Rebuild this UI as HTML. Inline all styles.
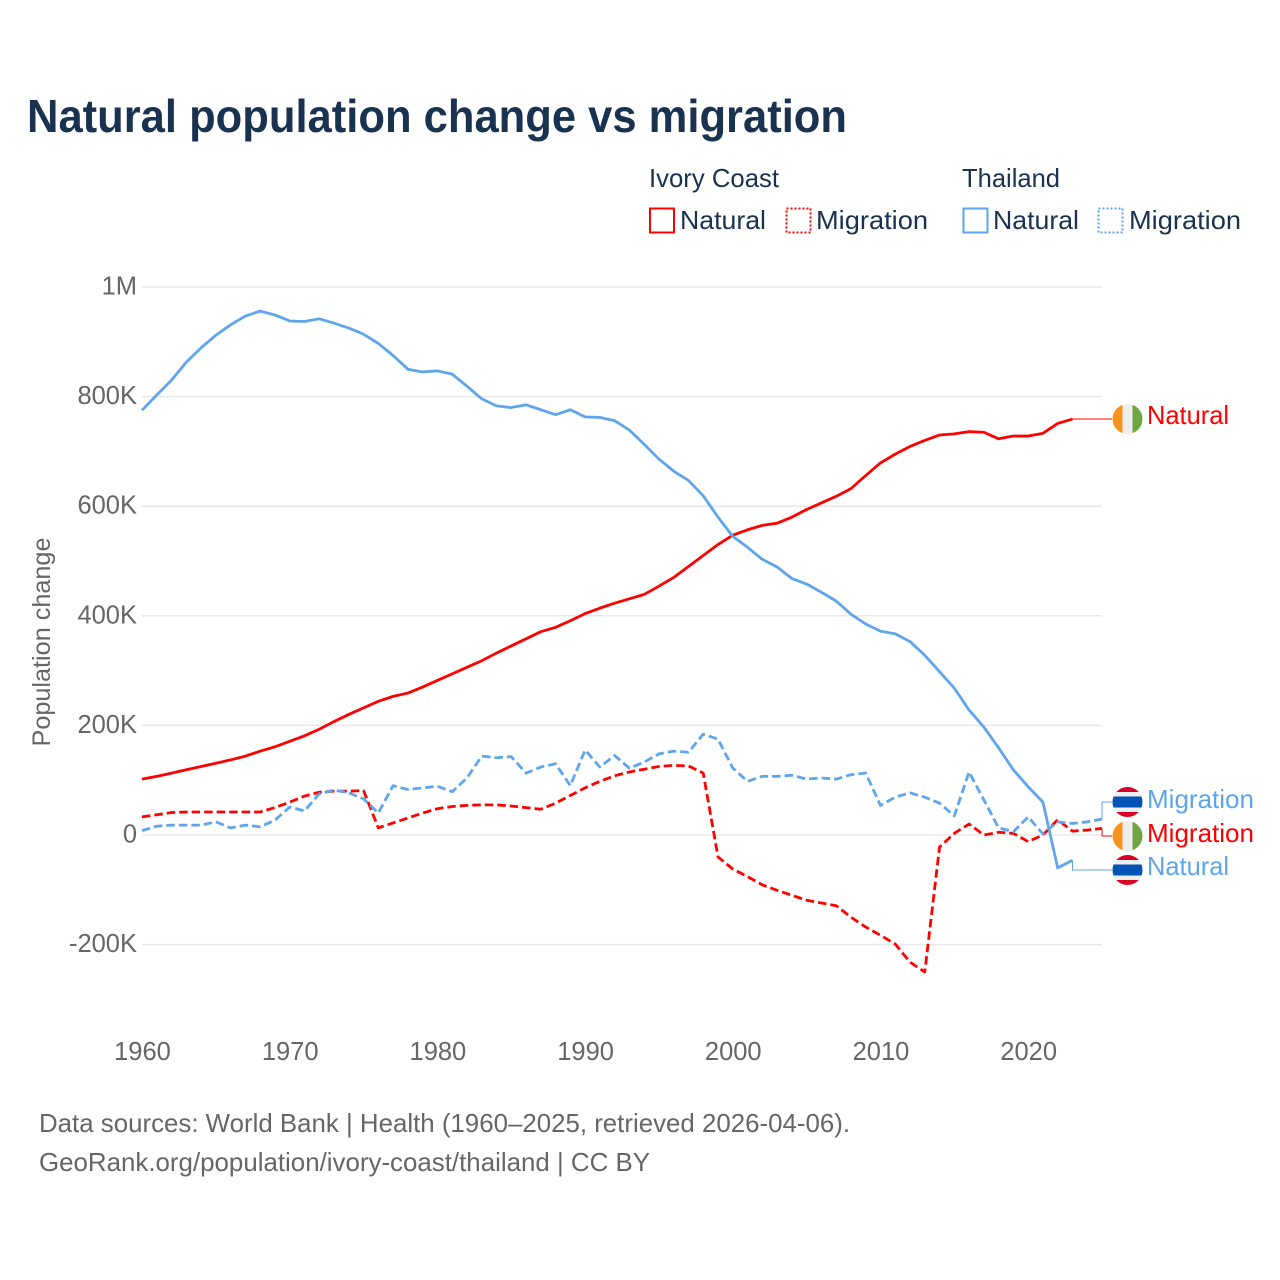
<!DOCTYPE html>
<html lang="en">
<head>
<meta charset="utf-8">
<title>Natural population change vs migration</title>
<style>
html,body{margin:0;padding:0;background:#fff;width:1280px;height:1280px;overflow:hidden}
svg{display:block}
text{font-family:"Liberation Sans",sans-serif}
</style>
</head>
<body>
<svg id="chart" xmlns="http://www.w3.org/2000/svg" width="1280" height="1280" viewBox="0 0 1280 1280">
  <defs>
    <clipPath id="flag-clip"><circle cx="0" cy="0" r="15"/></clipPath>
    <g id="flag-ic">
      <g clip-path="url(#flag-clip)">
        <rect x="-15" y="-15" width="10" height="30" fill="#f7941d"/>
        <rect x="-5" y="-15" width="10" height="30" fill="#eeeeee"/>
        <rect x="5" y="-15" width="10" height="30" fill="#6ea644"/>
      </g>
    </g>
    <g id="flag-th">
      <g clip-path="url(#flag-clip)">
        <rect x="-15" y="-15" width="30" height="30" fill="#eeeeee"/>
        <rect x="-15" y="-15" width="30" height="5" fill="#d80027"/>
        <rect x="-15" y="-5.5" width="30" height="11" fill="#0052b4"/>
        <rect x="-15" y="10" width="30" height="5" fill="#d80027"/>
      </g>
    </g>
  </defs>
  <text x="27" y="132" font-size="46" font-weight="700" fill="#18324f" textLength="820" lengthAdjust="spacingAndGlyphs">Natural population change vs migration</text>

  <g font-size="26" fill="#18324f">
    <text x="649" y="187" textLength="130" lengthAdjust="spacingAndGlyphs">Ivory Coast</text>
    <text x="962" y="187" textLength="98" lengthAdjust="spacingAndGlyphs">Thailand</text>
    <rect x="650" y="208.500" width="24" height="24" fill="none" stroke="#ff0000" stroke-width="2"/>
    <text x="680" y="229" textLength="86" lengthAdjust="spacingAndGlyphs">Natural</text>
    <rect x="786.500" y="208.500" width="24" height="24" fill="none" stroke="#ff0000" stroke-width="2" stroke-dasharray="2 2"/>
    <text x="816" y="229" textLength="112" lengthAdjust="spacingAndGlyphs">Migration</text>
    <rect x="963.500" y="208.500" width="24" height="24" fill="none" stroke="#5ea5ec" stroke-width="2"/>
    <text x="993" y="229" textLength="86" lengthAdjust="spacingAndGlyphs">Natural</text>
    <rect x="1098.500" y="208.500" width="24" height="24" fill="none" stroke="#5ea5ec" stroke-width="2" stroke-dasharray="2 2"/>
    <text x="1129" y="229" textLength="112" lengthAdjust="spacingAndGlyphs">Migration</text>
  </g>

  <text transform="translate(50,642) rotate(-90)" text-anchor="middle" font-size="25" fill="#666666" textLength="209" lengthAdjust="spacingAndGlyphs">Population change</text>

  <g id="grid"></g>
  <g id="yticks"></g>
  <g id="xticks"></g>
  <g id="connectors"></g>
  <g id="series"></g>
  <g id="endlabels"></g>

  <g font-size="26" fill="#666666">
    <text x="39" y="1132" textLength="811" lengthAdjust="spacingAndGlyphs">Data sources: World Bank | Health (1960–2025, retrieved 2026-04-06).</text>
    <text x="39" y="1171" textLength="611" lengthAdjust="spacingAndGlyphs">GeoRank.org/population/ivory-coast/thailand | CC BY</text>
  </g>
</svg>
<script>
const years = [1960,1961,1962,1963,1964,1965,1966,1967,1968,1969,
  1970,1971,1972,1973,1974,1975,1976,1977,1978,1979,
  1980,1981,1982,1983,1984,1985,1986,1987,1988,1989,
  1990,1991,1992,1993,1994,1995,1996,1997,1998,1999,
  2000,2001,2002,2003,2004,2005,2006,2007,2008,2009,
  2010,2011,2012,2013,2014,2015,2016,2017,2018,2019,
  2020,2021,2022,2023,2024,2025];
const ivoryCoastNatural = [102,107,113,119,125,131,137,144,153,161,
  171,181,193,207,220,232,244,253,259,270,
  282,294,306,318,332,345,358,371,379,391,
  404,414,423,431,439,454,470,490,510,530,
  547,557,565,569,580,594,606,618,632,656,
  679,695,709,720,730,732,736,735,723,728,
  728,733,751,759];
const thailandNatural = [775,803,830,863,889,912,931,947,956,949,
  938,937,942,934,925,914,897,875,850,845,
  847,841,819,796,783,780,785,776,767,776,
  763,762,756,739,713,686,664,647,619,580,
  545,525,503,489,468,458,443,427,403,385,
  372,367,353,328,298,268,228,197,159,119,
  88,60,-60,-46];
const ivoryCoastMigration = [33,37,41,42,42,42,42,42,42,50,
  60,71,78,80,80,81,13,22,31,40,
  48,52,54,55,55,53,50,47,58,72,
  86,98,108,115,120,125,127,126,113,-40,
  -62,-76,-91,-101,-110,-119,-124,-129,-150,-168,
  -183,-199,-232,-250,-22,3,20,0,5,3,
  -12,0,28,7,9,12];
const thailandMigration = [8,16,18,18,18,24,13,18,15,27,
  51,44,75,82,77,66,40,90,83,86,
  89,79,104,144,141,143,113,124,130,90,
  155,124,145,122,133,148,153,151,184,175,
  122,98,107,107,109,102,104,102,110,113,
  54,69,77,69,58,35,115,64,13,6,
  33,2,24,21,24,29];
const yTickValues = [-200,0,200,400,600,800,1000];
const yTickLabels = ['-200K','0','200K','400K','600K','800K','1M'];
const xTickValues = [1960,1970,1980,1990,2000,2010,2020];

const NS = 'http://www.w3.org/2000/svg';
const RED = '#ff0000';
const BLUE = '#5ea5ec';
function xScale(year){ return 142 + (year - 1960) * (960 / 65); }
function yScale(k){ return 835 - k * 0.548; }
function add(parent, tag, attrs, text){
  const el = document.createElementNS(NS, tag);
  for (const k in attrs) el.setAttribute(k, attrs[k]);
  if (text !== undefined) el.textContent = text;
  document.getElementById(parent).appendChild(el);
  return el;
}
yTickValues.forEach(function(v, i){
  const g = add('grid', 'line', {x1:142, x2:1102, y1:yScale(v), y2:yScale(v), stroke:'#e8e8e8', 'stroke-width':1.5});
  
  
  const t = add('yticks', 'text', {x:137, y:yScale(v) + 7.5, 'text-anchor':'end', 'font-size':25.5, fill:'#666666'}, yTickLabels[i]);
  
  
});
xTickValues.forEach(function(v){
  const t = add('xticks', 'text', {x:xScale(v) + 0.5, y:1060, 'text-anchor':'middle', 'font-size':25.5, fill:'#666666'}, String(v));
  
  
});
function points(values){
  return values.map(function(v, i){ return xScale(years[i]).toFixed(2) + ',' + yScale(v).toFixed(2); }).join(' ');
}
function drawLine(values, color, dashed){
  const attrs = {points:points(values), fill:'none', stroke:color, 'stroke-width':2.8, 'stroke-linejoin':'round'};
  if (dashed) attrs['stroke-dasharray'] = '8.5 4';
  return add('series', 'polyline', attrs);
}
const l1 = drawLine(ivoryCoastMigration, RED, true);


const l2 = drawLine(thailandMigration, BLUE, true);


const l3 = drawLine(ivoryCoastNatural, RED, false);


const l4 = drawLine(thailandNatural, BLUE, false);



function drawConnector(values, color, labelY){
  const i = values.length - 1;
  const px = xScale(years[i]), py = yScale(values[i]);
  return add('connectors', 'polyline', {points:px + ',' + py + ' ' + px + ',' + labelY + ' 1112,' + labelY, fill:'none', stroke:color, 'stroke-width':1});
}
function drawFlag(flagId, labelY){
  return add('endlabels', 'use', {href:'#' + flagId, x:1127.500, y:labelY});
}
function drawLabel(text, color, labelY, width){
  return add('endlabels', 'text', {x:1147, y:labelY + 8, 'font-size':26, fill:color, textLength:width, lengthAdjust:'spacingAndGlyphs'}, text);
}
const c1 = drawConnector(ivoryCoastNatural, RED, 419);


const f1 = drawFlag('flag-ic', 419);


const t1 = drawLabel('Natural', RED, 416, 82);



const c2 = drawConnector(thailandMigration, BLUE, 802);


const f2 = drawFlag('flag-th', 802);


const t2 = drawLabel('Migration', BLUE, 800, 107);



const c3 = drawConnector(ivoryCoastMigration, RED, 836);


const f3 = drawFlag('flag-ic', 836);


const t3 = drawLabel('Migration', RED, 834, 107);



const c4 = drawConnector(thailandNatural, BLUE, 870);


const f4 = drawFlag('flag-th', 870);


const t4 = drawLabel('Natural', BLUE, 867, 82);


</script>
</body>
</html>
